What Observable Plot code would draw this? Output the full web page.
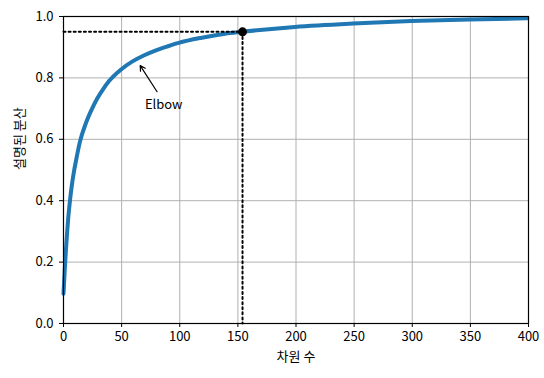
<!DOCTYPE html>
<html>
<head>
<meta charset="utf-8">
<script src="https://cdn.jsdelivr.net/npm/d3@7"></script>
<script src="https://cdn.jsdelivr.net/npm/@observablehq/plot@0.6"></script>
<style>
  html, body { margin: 0; padding: 0; background: #fff; }
</style>
</head>
<body>
<div id="chart"></div>
<script>
// Cumulative explained variance (x = component index, 0-based)
const dims = [0, 1, 2, 3, 4, 5, 6, 7, 9, 11, 14, 19, 24, 29, 34, 39, 49, 59, 69, 79, 89, 99, 119, 139, 153, 174, 199, 249, 299, 349, 399];
const ratios = [0.097, 0.170, 0.235, 0.290, 0.340, 0.380, 0.415, 0.445, 0.495, 0.535, 0.590, 0.650, 0.695, 0.733, 0.763, 0.789, 0.826, 0.853, 0.873, 0.889, 0.902, 0.914, 0.931, 0.944, 0.950, 0.958, 0.966, 0.977, 0.985, 0.990, 0.994];

const elbowPoint = {d: 154, v: 0.95};
const annotationText = "Elbow";
const annotationTextPos = {x: 70, y: 0.7};
const arrowFrom = {x: 80.5, y: 0.755};
const arrowTo = {x: 66, y: 0.84};

const xTicks = [0, 50, 100, 150, 200, 250, 300, 350, 400];
const yTicks = [0, 0.2, 0.4, 0.6, 0.8, 1.0];
const xLabel = "차원 수";
const yLabel = "설명된 분산";

const data = dims.map((d, i) => ({d, v: ratios[i]}));

const font = "'Noto Sans CJK KR', 'Noto Sans', sans-serif";

const chart = Plot.plot({
  width: 544,
  height: 378,
  marginLeft: 63,
  marginRight: 16,
  marginTop: 16,
  marginBottom: 55,
  style: {fontFamily: font, fontSize: "13px", background: "#fff", color: "#000"},
  x: {domain: [0, 400]},
  y: {domain: [0, 1]},
  marks: [
    Plot.gridX(xTicks, {stroke: "#b0b0b0", strokeOpacity: 1, strokeWidth: 1}),
    Plot.gridY(yTicks, {stroke: "#b0b0b0", strokeOpacity: 1, strokeWidth: 1}),
    Plot.line(data, {x: "d", y: "v", stroke: "#1f77b4", strokeWidth: 4, curve: "monotone-x"}),
    Plot.line([{x: 0, y: elbowPoint.v}, {x: elbowPoint.d, y: elbowPoint.v}], {x: "x", y: "y", stroke: "#000", strokeWidth: 2, strokeDasharray: "2,3.1"}),
    Plot.line([{x: elbowPoint.d, y: elbowPoint.v}, {x: elbowPoint.d, y: 0}], {x: "x", y: "y", stroke: "#000", strokeWidth: 2, strokeDasharray: "2,3.1"}),
    Plot.dot([elbowPoint], {x: "d", y: "v", r: 4.5, fill: "#000", stroke: "none"}),
    Plot.arrow([{x1: arrowFrom.x, y1: arrowFrom.y, x2: arrowTo.x, y2: arrowTo.y}], {x1: "x1", y1: "y1", x2: "x2", y2: "y2", stroke: "#000", strokeWidth: 1.2, headLength: 7}),
    Plot.text([annotationTextPos], {x: "x", y: "y", text: () => annotationText, textAnchor: "start", lineAnchor: "bottom", fill: "#000", fontSize: 13}),
    Plot.frame({stroke: "#000", strokeWidth: 1.2}),
    Plot.axisX(xTicks, {tickSize: 4, tickPadding: 4, label: null, tickFormat: d3.format("d"), fontSize: 13}),
    Plot.axisY(yTicks, {tickSize: 4, tickPadding: 6, label: null, tickFormat: d3.format(".1f"), fontSize: 13}),
    Plot.text([xLabel], {frameAnchor: "bottom", dy: 33, text: d => d, lineAnchor: "middle", fontSize: 13, fill: "#000"}),
    Plot.text([yLabel], {frameAnchor: "left", dx: -44, rotate: -90, text: d => d, lineAnchor: "middle", fontSize: 13, fill: "#000"})
  ]
});

document.getElementById("chart").appendChild(chart);
</script>
</body>
</html>
